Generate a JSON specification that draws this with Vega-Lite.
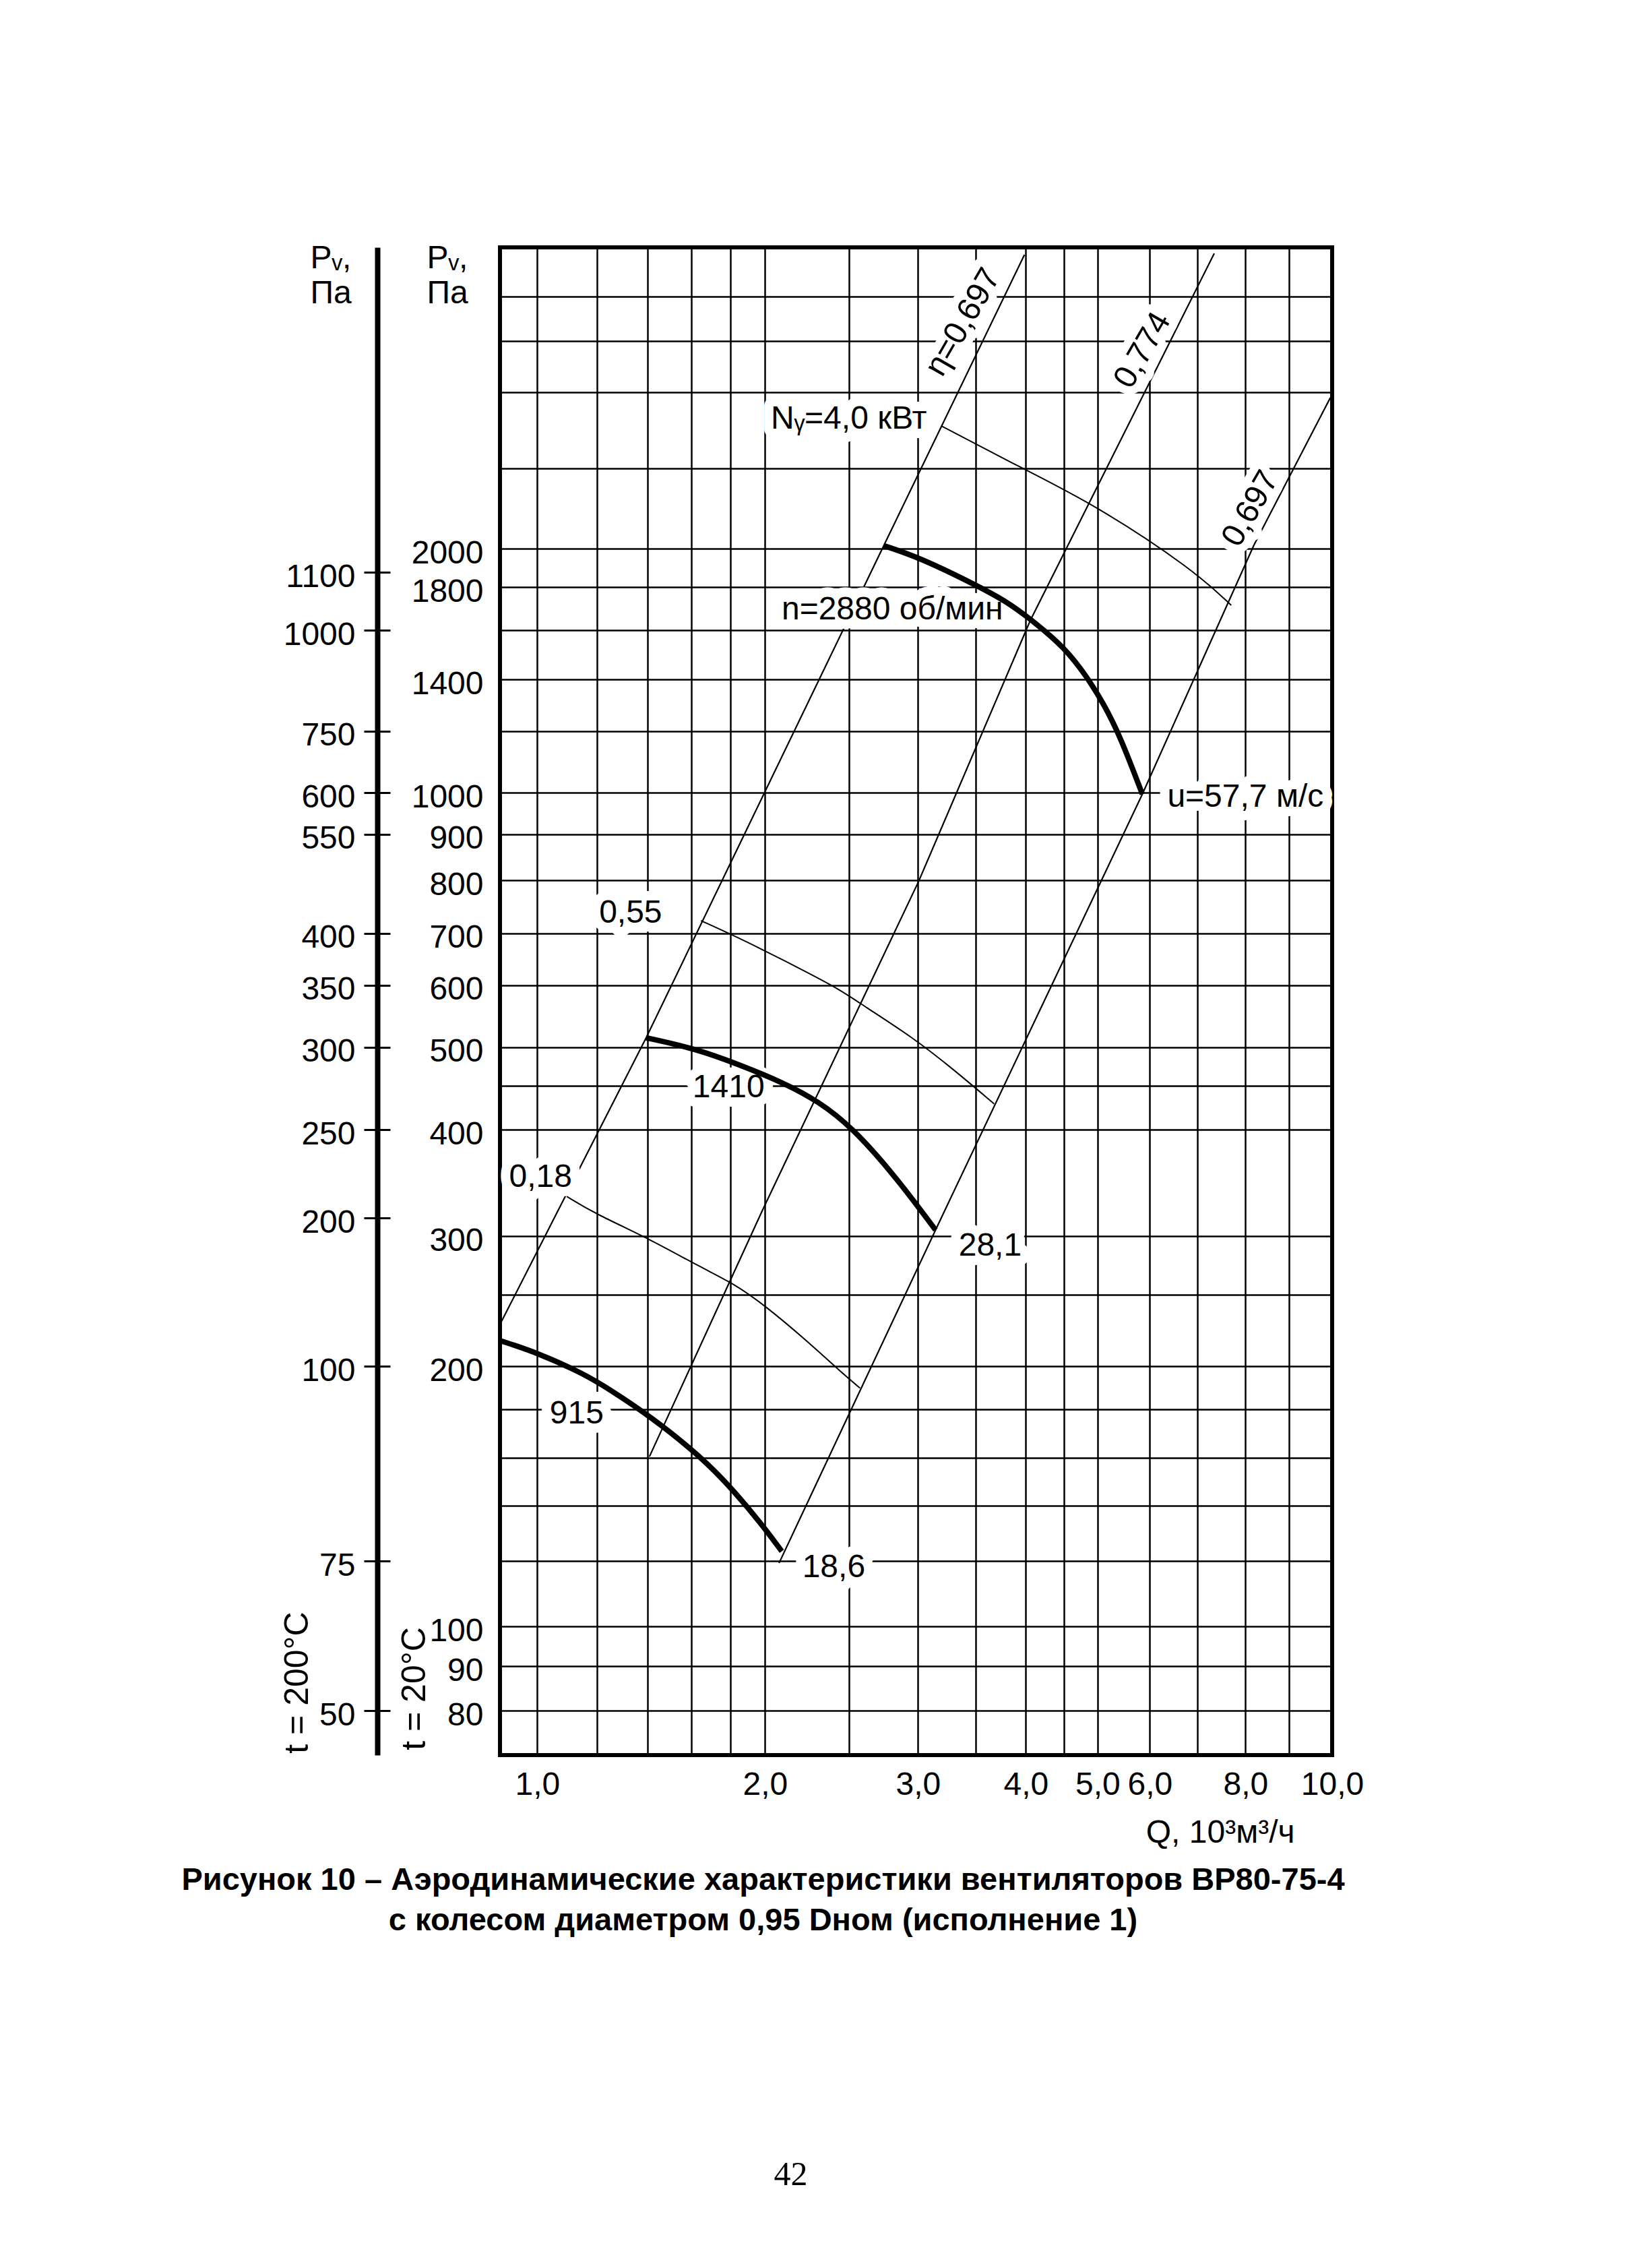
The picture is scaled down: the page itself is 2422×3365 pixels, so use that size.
{
  "$schema": "https://vega.github.io/schema/vega-lite/v6.json",
  "width": 1235,
  "height": 2237,
  "autosize": {"type": "none"},
  "padding": {"left": 742, "top": 367, "right": 445, "bottom": 761},
  "background": "white",
  "config": {
    "view": {"stroke": "black", "strokeWidth": 6},
    "font": "Liberation Sans",
    "axis": {
      "labelFont": "Liberation Sans", "labelFontSize": 48, "labelColor": "black",
      "titleFont": "Liberation Sans", "titleFontSize": 48, "titleFontWeight": "normal", "titleColor": "black",
      "labelOverlap": false, "labelBound": false, "labelFlush": false,
      "gridColor": "black", "gridOpacity": 1, "gridWidth": 2.5,
      "domainColor": "black", "tickColor": "black"
    }
  },
  "datasets": {
    "curves": [
      {"id": "2880", "q": 2.739, "p": 2017}, {"id": "2880", "q": 3.005, "p": 1954}, {"id": "2880", "q": 3.489, "p": 1815},
      {"id": "2880", "q": 3.817, "p": 1728}, {"id": "2880", "q": 4.128, "p": 1631}, {"id": "2880", "q": 4.507, "p": 1528},
      {"id": "2880", "q": 4.829, "p": 1413}, {"id": "2880", "q": 5.1, "p": 1305}, {"id": "2880", "q": 5.41, "p": 1183},
      {"id": "2880", "q": 5.847, "p": 996},
      {"id": "1410", "q": 1.393, "p": 514}, {"id": "1410", "q": 1.618, "p": 498}, {"id": "1410", "q": 1.854, "p": 476.5},
      {"id": "1410", "q": 2.106, "p": 453.6}, {"id": "1410", "q": 2.303, "p": 432}, {"id": "1410", "q": 2.518, "p": 403},
      {"id": "1410", "q": 2.833, "p": 351.5}, {"id": "1410", "q": 3.144, "p": 305},
      {"id": "915", "q": 0.9, "p": 216.6}, {"id": "915", "q": 1.0, "p": 208.6}, {"id": "915", "q": 1.152, "p": 196.4},
      {"id": "915", "q": 1.253, "p": 188.5}, {"id": "915", "q": 1.411, "p": 177}, {"id": "915", "q": 1.646, "p": 160.5},
      {"id": "915", "q": 1.824, "p": 145.6}, {"id": "915", "q": 1.984, "p": 132.6}, {"id": "915", "q": 2.091, "p": 123.3}
    ],
    "eta": [
      {"id": "left", "q": 0.9, "p": 227.8}, {"id": "left", "q": 1.393, "p": 514}, {"id": "left", "q": 2.739, "p": 2015}, {"id": "left", "q": 3.986, "p": 4420},
      {"id": "mid", "q": 1.407, "p": 160.5}, {"id": "mid", "q": 1.984, "p": 321.5}, {"id": "mid", "q": 3.005, "p": 798}, {"id": "mid", "q": 4.059, "p": 1646}, {"id": "mid", "q": 7.333, "p": 4435},
      {"id": "right", "q": 2.076, "p": 119.3}, {"id": "right", "q": 3.144, "p": 305}, {"id": "right", "q": 5.847, "p": 996}, {"id": "right", "q": 8.185, "p": 2020}, {"id": "right", "q": 9.956, "p": 2961}
    ],
    "power": [
      {"id": "4,0", "q": 3.195, "p": 2767}, {"id": "4,0", "q": 3.991, "p": 2491}, {"id": "4,0", "q": 4.952, "p": 2261}, {"id": "4,0", "q": 6.879, "p": 1893}, {"id": "4,0", "q": 7.69, "p": 1714},
      {"id": "0,55", "q": 1.646, "p": 722.5}, {"id": "0,55", "q": 1.79, "p": 700}, {"id": "0,55", "q": 1.984, "p": 667}, {"id": "0,55", "q": 2.234, "p": 624},
      {"id": "0,55", "q": 2.443, "p": 592}, {"id": "0,55", "q": 2.591, "p": 566}, {"id": "0,55", "q": 2.963, "p": 514}, {"id": "0,55", "q": 3.288, "p": 472}, {"id": "0,55", "q": 3.676, "p": 429},
      {"id": "0,18", "q": 1.094, "p": 334}, {"id": "0,18", "q": 1.1904, "p": 319}, {"id": "0,18", "q": 1.411, "p": 297}, {"id": "0,18", "q": 1.646, "p": 272},
      {"id": "0,18", "q": 1.824, "p": 258.4}, {"id": "0,18", "q": 2.0, "p": 241.6}, {"id": "0,18", "q": 2.234, "p": 216.6}, {"id": "0,18", "q": 2.443, "p": 197.4}, {"id": "0,18", "q": 2.573, "p": 189.6}
    ],
    "labels": [
      {"t": "n=2880 об/мин", "q": 2.803, "p": 1692},
      {"t": "Nᵧ=4,0 кВт", "q": 2.498, "p": 2812},
      {"t": "u=57,7 м/с", "q": 8.0, "p": 988},
      {"t": "0,55", "q": 1.3286, "p": 736},
      {"t": "1410", "q": 1.79, "p": 448},
      {"t": "0,18", "q": 1.01, "p": 351.5},
      {"t": "915", "q": 1.1275, "p": 178},
      {"t": "18,6", "q": 2.4, "p": 117.8},
      {"t": "28,1", "q": 3.637, "p": 290.7}
    ],
    "rlabels": [
      {"t": "η=0,697", "q": 3.387, "p": 3698},
      {"t": "0,774", "q": 5.86, "p": 3400},
      {"t": "0,697", "q": 8.117, "p": 2234}
    ]
  },
  "encoding": {
    "x": {
      "field": "q", "type": "quantitative",
      "scale": {"type": "log", "domain": [0.9, 1, 2, 3, 4, 5, 6, 7, 8, 9, 10], "range": [0, 55.3, 393.3, 620.3, 780.3, 886.9, 964.3, 1035.3, 1106.3, 1171.3, 1235], "nice": false},
      "axis": {
        "orient": "bottom",
        "values": [1, 1.2, 1.4, 1.6, 1.8, 2, 2.5, 3, 3.5, 4, 4.5, 5, 6, 7, 8, 9, 10],
        "labelExpr": "indexof([1,2,3,4,5,6,8,10], datum.value) >= 0 ? replace(format(datum.value, '.1f'), '.', ',') : ''",
        "grid": true, "ticks": false, "tickSize": 0, "domain": false,
        "labelPadding": 20,
        "title": "Q, 10³м³/ч",
        "titleX": 1179, "titleY": 129, "titleAlign": "right", "titleBaseline": "alphabetic", "titleAngle": 0
      }
    }
  },
  "layer": [
    {
      "data": {"name": "eta"},
      "mark": {"type": "line", "color": "black", "strokeWidth": 2.2},
      "encoding": {
        "detail": {"field": "id"},
        "y": {
          "field": "p", "type": "quantitative",
          "scale": {"type": "log", "domain": [70, 80, 100, 160, 200, 300, 500, 700, 1000, 1400, 2000, 2500, 3000, 4000, 4500], "range": [2237, 2171, 2046, 1796, 1660, 1467, 1186.6, 1017.5, 809, 641, 447, 328, 215, 72.5, 0], "nice": false},
          "axis": {
            "orient": "left", "offset": 182,
            "values": [1875, 1600, 1200, 1000, 900, 700, 600, 500, 400, 315, 200, 120, 80],
            "labelExpr": "'' + [1100,1000,750,600,550,400,350,300,250,200,100,75,50][indexof([1875,1600,1200,1000,900,700,600,500,400,315,200,120,80], datum.value)]",
            "grid": false, "domain": true, "domainWidth": 8, "ticks": true, "tickSize": 20, "tickWidth": 3,
            "labelPadding": 13, "labelOffset": 7,
            "title": ["Pᵥ,", "Па"], "titleAngle": 0, "titleX": -100, "titleY": 30,
            "titleAlign": "left", "titleBaseline": "alphabetic", "titleLineHeight": 52
          }
        }
      }
    },
    {
      "data": {"name": "power"},
      "mark": {"type": "line", "color": "black", "strokeWidth": 2, "interpolate": "basis"},
      "encoding": {
        "detail": {"field": "id"},
        "y": {
          "field": "p", "type": "quantitative",
          "scale": {"type": "log", "domain": [70, 80, 100, 160, 200, 300, 500, 700, 1000, 1400, 2000, 2500, 3000, 4000, 4500], "range": [2237, 2171, 2046, 1796, 1660, 1467, 1186.6, 1017.5, 809, 641, 447, 328, 215, 72.5, 0], "nice": false},
          "axis": {
            "orient": "left", "offset": 163,
            "values": [1875, 1600, 1200, 1000, 900, 700, 600, 500, 400, 315, 200, 120, 80],
            "labels": false, "grid": false, "domain": false, "ticks": true, "tickSize": 19, "tickWidth": 3,
            "title": "t = 200°C", "titleAngle": -90, "titleX": -138, "titleY": 2129, "titleFontSize": 50,
            "titleAlign": "center", "titleBaseline": "middle"
          }
        }
      }
    },
    {
      "data": {"name": "labels"},
      "mark": {"type": "text", "fontSize": 48, "font": "Liberation Sans", "fill": "white", "stroke": "white", "strokeWidth": 28, "strokeJoin": "round", "align": "center", "baseline": "middle"},
      "encoding": {
        "text": {"field": "t"},
        "y": {
          "field": "p", "type": "quantitative",
          "scale": {"type": "log", "domain": [70, 80, 100, 160, 200, 300, 500, 700, 1000, 1400, 2000, 2500, 3000, 4000, 4500], "range": [2237, 2171, 2046, 1796, 1660, 1467, 1186.6, 1017.5, 809, 641, 447, 328, 215, 72.5, 0], "nice": false},
          "axis": {
            "orient": "left", "offset": 0, "values": [],
            "labels": false, "grid": false, "domain": false, "ticks": false,
            "title": "t = 20°C", "titleAngle": -90, "titleX": -127, "titleY": 2138, "titleFontSize": 50,
            "titleAlign": "center", "titleBaseline": "middle"
          }
        }
      }
    },
    {
      "data": {"name": "labels"},
      "mark": {"type": "text", "fontSize": 48, "font": "Liberation Sans", "color": "black", "align": "center", "baseline": "middle"},
      "encoding": {
        "text": {"field": "t"},
        "y": {
          "field": "p", "type": "quantitative",
          "scale": {"type": "log", "domain": [70, 80, 100, 160, 200, 300, 500, 700, 1000, 1400, 2000, 2500, 3000, 4000, 4500], "range": [2237, 2171, 2046, 1796, 1660, 1467, 1186.6, 1017.5, 809, 641, 447, 328, 215, 72.5, 0], "nice": false},
          "axis": {
            "orient": "left", "offset": 0, "values": [],
            "labels": false, "grid": false, "domain": false, "ticks": false,
            "title": ["Рисунок 10 – Аэродинамические характеристики вентиляторов ВР80-75-4", "с колесом диаметром 0,95 Dном (исполнение 1)"],
            "titleAngle": 0, "titleX": 390, "titleY": 2436,
            "titleFontSize": 47, "titleFontWeight": "bold", "titleLineHeight": 60,
            "titleAlign": "center", "titleBaseline": "alphabetic"
          }
        }
      }
    },
    {
      "data": {"name": "rlabels"},
      "mark": {"type": "text", "fontSize": 48, "font": "Liberation Sans", "angle": -60, "fill": "white", "stroke": "white", "strokeWidth": 24, "strokeJoin": "round", "align": "center", "baseline": "middle"},
      "encoding": {
        "text": {"field": "t"},
        "y": {
          "field": "p", "type": "quantitative",
          "scale": {"type": "log", "domain": [70, 80, 100, 160, 200, 300, 500, 700, 1000, 1400, 2000, 2500, 3000, 4000, 4500], "range": [2237, 2171, 2046, 1796, 1660, 1467, 1186.6, 1017.5, 809, 641, 447, 328, 215, 72.5, 0], "nice": false},
          "axis": {
            "orient": "left", "offset": 0, "values": [],
            "labels": false, "grid": false, "domain": false, "ticks": false,
            "title": "42", "titleAngle": 0, "titleX": 431, "titleY": 2859,
            "titleFont": "Liberation Serif", "titleFontSize": 50,
            "titleAlign": "center", "titleBaseline": "middle"
          }
        }
      }
    },
    {
      "data": {"name": "rlabels"},
      "mark": {"type": "text", "fontSize": 48, "font": "Liberation Sans", "angle": -60, "color": "black", "align": "center", "baseline": "middle"},
      "encoding": {
        "text": {"field": "t"},
        "y": {"field": "p", "type": "quantitative", "scale": {"type": "log", "domain": [70, 80, 100, 160, 200, 300, 500, 700, 1000, 1400, 2000, 2500, 3000, 4000, 4500], "range": [2237, 2171, 2046, 1796, 1660, 1467, 1186.6, 1017.5, 809, 641, 447, 328, 215, 72.5, 0], "nice": false}, "axis": null}
      }
    },
    {
      "data": {"name": "curves"},
      "mark": {"type": "line", "color": "black", "strokeWidth": 8, "interpolate": "basis"},
      "encoding": {
        "detail": {"field": "id"},
        "y": {
          "field": "p", "type": "quantitative",
          "scale": {"type": "log", "domain": [70, 80, 100, 160, 200, 300, 500, 700, 1000, 1400, 2000, 2500, 3000, 4000, 4500], "range": [2237, 2171, 2046, 1796, 1660, 1467, 1186.6, 1017.5, 809, 641, 447, 328, 215, 72.5, 0], "nice": false},
          "axis": {
            "orient": "left", "offset": 0,
            "values": [80, 90, 100, 120, 140, 160, 180, 200, 250, 300, 400, 450, 500, 600, 700, 800, 900, 1000, 1200, 1400, 1600, 1800, 2000, 2500, 3000, 3500, 4000],
            "labelExpr": "indexof([80,90,100,200,300,400,500,600,700,800,900,1000,1400,1800,2000], datum.value) >= 0 ? format(datum.value, 'd') : ''",
            "grid": true, "ticks": false, "tickSize": 0, "domain": false,
            "labelPadding": 25, "labelOffset": 7,
            "title": ["Pᵥ,", "Па"], "titleAngle": 0, "titleX": -109, "titleY": 30,
            "titleAlign": "left", "titleBaseline": "alphabetic", "titleLineHeight": 52
          }
        }
      }
    }
  ],
  "resolve": {"axis": {"y": "independent"}}
}
